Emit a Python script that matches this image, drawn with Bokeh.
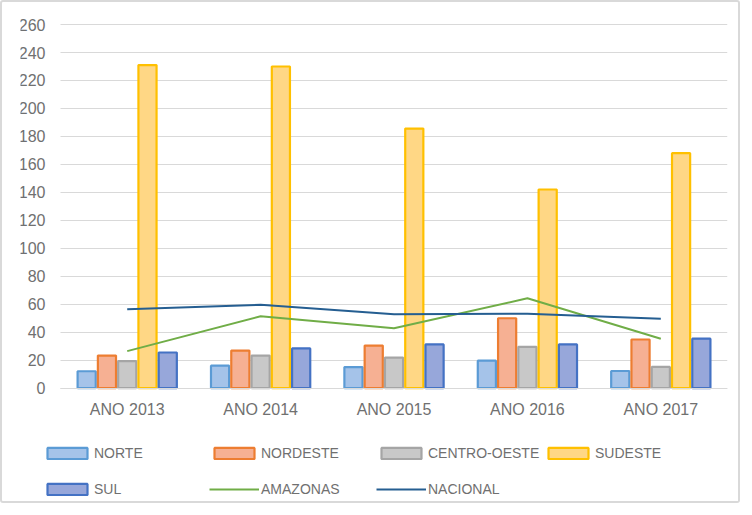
from bokeh.plotting import figure
from bokeh.models import ColumnDataSource, Range1d, Legend, LegendItem, FixedTicker
from bokeh.transform import dodge
from bokeh.embed import file_html
from bokeh.resources import INLINE

years = ["ANO 2013", "ANO 2014", "ANO 2015", "ANO 2016", "ANO 2017"]
norte = [12.0, 16.0, 15.0, 19.6, 12.2]
nordeste = [23.2, 26.8, 30.4, 49.9, 34.7]
centro_oeste = [19.2, 23.2, 21.8, 29.5, 15.1]
sudeste = [231.0, 230.0, 185.6, 142.0, 168.0]
sul = [25.4, 28.3, 31.2, 31.2, 35.3]
amazonas = [26.4, 51.3, 42.7, 64.2, 35.3]
nacional = [56.3, 59.5, 52.7, 53.2, 49.6]
y_ticks = [0, 20, 40, 60, 80, 100, 120, 140, 160, 180, 200, 220, 240, 260]

# category centres on a numeric axis (one unit per year)
xc = [i + 0.5 for i in range(len(years))]

source = ColumnDataSource(dict(x=xc, year=years, norte=norte, nordeste=nordeste,
                               centro=centro_oeste, sudeste=sudeste, sul=sul,
                               amazonas=amazonas, nacional=nacional))

FONT = "Liberation Sans"
TXT = "#707070"
GRID = "#d9d9d9"

# frame extended left/above/below so the legend (drawn inside the frame) is not clipped
p = figure(width=740, height=503, output_backend="svg", toolbar_location=None,
           x_range=Range1d(-0.30, len(years)), y_range=Range1d(-84.03, 270.06),
           min_border_left=18, min_border_right=15, min_border_top=8, min_border_bottom=0)
p.styles = {"border": "2px solid #d9d9d9", "border-radius": "3px"}

p.outline_line_color = None
p.background_fill_color = "white"
p.border_fill_color = "white"
p.xgrid.grid_line_color = None
p.ygrid.grid_line_color = None

# y axis at the start of the categories; long inward ticks act as the gridlines
p.yaxis.fixed_location = 0
p.yaxis.bounds = (0, 260)
p.yaxis.ticker = FixedTicker(ticks=y_ticks)
p.yaxis.axis_line_color = None
p.yaxis.major_tick_in = 667
p.yaxis.major_tick_out = 0
p.yaxis.major_tick_line_color = GRID
p.yaxis.major_tick_line_width = 1
p.yaxis.minor_tick_line_color = None
p.yaxis.major_label_standoff = 15
p.yaxis.level = "underlay"

p.xaxis.fixed_location = 0
p.xaxis.bounds = (0, len(years))
p.xaxis.ticker = FixedTicker(ticks=xc)
p.xaxis.major_label_overrides = {x: y for x, y in zip(xc, years)}
p.xaxis.axis_line_color = GRID
p.xaxis.major_tick_line_color = None
p.xaxis.minor_tick_line_color = None
p.xaxis.major_tick_out = 0
p.xaxis.major_tick_in = 0
p.xaxis.major_label_standoff = 13
for ax in (p.xaxis, p.yaxis):
    ax.major_label_text_font = FONT
    ax.major_label_text_font_size = "16px"
    ax.major_label_text_color = TXT

W = 0.136
specs = [
    ("norte", -0.304, "#a5c3e9", "#5b9bd5", "NORTE"),
    ("nordeste", -0.152, "#f6b093", "#ed7d31", "NORDESTE"),
    ("centro", 0.0, "#c8c8c8", "#a5a5a5", "CENTRO-OESTE"),
    ("sudeste", 0.152, "#ffd785", "#ffc000", "SUDESTE"),
    ("sul", 0.304, "#97a7da", "#4472c4", "SUL"),
]
bars = {}
for col, off, fill, line, name in specs:
    bars[name] = p.vbar(x=dodge("x", off), top=col, width=W, bottom=0,
                        source=source, fill_color=fill, line_color=line,
                        line_width=2.2)

r_am = p.line(x="x", y="amazonas", source=source, line_color="#70ad47", line_width=2)
r_na = p.line(x="x", y="nacional", source=source, line_color="#255e91", line_width=2)

def mk_legend(items, vy):
    return Legend(items=items, orientation="horizontal", location=(22, vy),
                  glyph_width=50, glyph_height=14, label_standoff=2, label_width=112,
                  spacing=3, padding=0, margin=0, border_line_color=None,
                  background_fill_alpha=0, label_text_font=FONT,
                  label_text_font_size="14px", label_text_color=TXT)

lg1 = mk_legend([LegendItem(label=n, renderers=[bars[n]]) for n in
                 ["NORTE", "NORDESTE", "CENTRO-OESTE", "SUDESTE"]], 44)
lg2 = mk_legend([LegendItem(label="SUL", renderers=[bars["SUL"]]),
                 LegendItem(label="AMAZONAS", renderers=[r_am]),
                 LegendItem(label="NACIONAL", renderers=[r_na])], 8)
p.add_layout(lg1)
p.add_layout(lg2)

open("out.html", "w").write(file_html(p, INLINE))
